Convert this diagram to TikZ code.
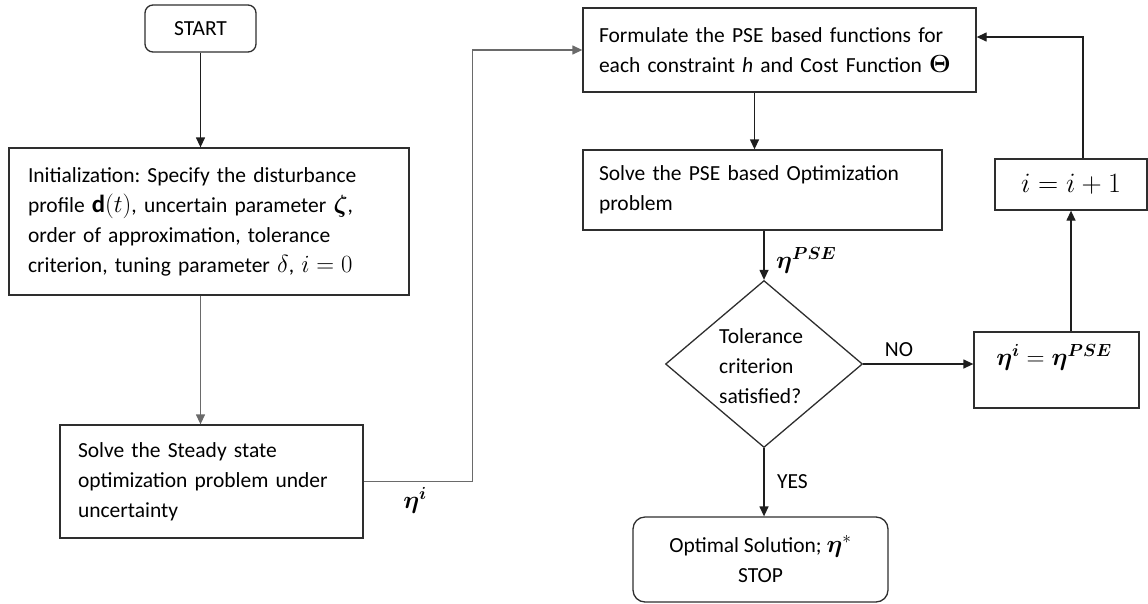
\RequirePackage{fix-cm}
\documentclass[tikz,border=0pt]{standalone}
\usepackage{amsmath}
\usepackage{fontspec}
\setmainfont{Carlito}
\usetikzlibrary{arrows.meta,shapes.geometric,calc}
\definecolor{boxc}{HTML}{2E2E2E}
\definecolor{linec}{HTML}{1E1E1E}
\definecolor{greyl}{HTML}{6A6A6A}
\frenchspacing
\newcommand{\mth}[1]{\scalebox{1.15}{$#1$}}
\tikzset{
  every node/.style={font=\fontsize{21.5}{30}\selectfont},
  box/.style={draw=boxc, line width=1.3pt, rectangle, inner ysep=0pt},
  rbox/.style={box, rounded corners=#1},
  arrow/.style={draw=linec, line width=1.3pt, -{Triangle[length=10pt,width=9pt]}},
  garrow/.style={draw=greyl, line width=1.3pt, -{Triangle[length=10pt,width=9pt]}},
  lbl/.style={inner sep=0pt},
  mlbl/.style={inner sep=0pt, font=\fontsize{25}{30}\selectfont}
}
\begin{document}
\begin{tikzpicture}[x=1pt,y=-1pt]
\useasboundingbox (0,0) rectangle (1148,603);

\node[rbox=8pt, minimum width=111pt, minimum height=47pt] (start) at (200.5,28.5) {START};

\node[box, minimum width=400pt, minimum height=147pt, inner xsep=19pt, text width=362pt, align=left] (init) at (209,221.5)
 {Initialization: Specify the disturbance\\
  profile \mth{\mathbf{d}(t)}, uncertain parameter \mth{\boldsymbol{\zeta}},\\
  order of approximation, tolerance\\
  criterion, tuning parameter \mth{\delta}, \mth{i=0}};

\node[box, minimum width=303pt, minimum height=113pt, inner xsep=18pt, text width=267pt, align=left] (steady) at (211.5,481.5)
 {Solve the Steady state\\ optimization problem under\\ uncertainty};

\node[box, minimum width=393pt, minimum height=84pt, inner xsep=16pt, text width=361pt, align=left] (form) at (779.5,50)
 {Formulate the PSE based functions for\\ each constraint \textit{h} and Cost Function \mth{\boldsymbol{\Theta}}};

\node[box, minimum width=359pt, minimum height=80pt, inner xsep=16pt, text width=327pt, align=left] (pse) at (762.5,190)
 {Solve the PSE based Optimization\\ problem};

\node[draw=boxc, line width=1.3pt, diamond, inner sep=0pt, minimum width=197pt, minimum height=167pt] (dia) at (764,364) {};
\node[lbl, align=left, anchor=west] (diat) at (719,366) {Tolerance\\ criterion\\ satisfied?};

\node[box, minimum width=165pt, minimum height=76pt] (upd) at (1056.5,370) {};
\node[mlbl] (updt) at (1054,357) {$\boldsymbol{\eta^{i}}=\boldsymbol{\eta^{PSE}}$};

\node[box, minimum width=152pt, minimum height=51pt, font=\fontsize{28}{30}\selectfont] (inc) at (1071,184.5) {$i=i+1$};

\node[rbox=12pt, minimum width=255pt, minimum height=85pt, align=center] (opt) at (760.5,559.5)
 {Optimal Solution; \mth{\boldsymbol{\eta}^{*}}\\ STOP};

% connectors
\draw[arrow] (start.south) -- (start.south |- init.north);
\draw[garrow] (start.south |- init.south) -- (start.south |- steady.north);
\draw[garrow] (steady.east) -| ($(form.west)+(-110,0)$) -- (form.west);
\coordinate (fa) at ($(form.south)+(-25,0)$);
\draw[arrow] (fa) -- (fa |- pse.north);
\draw[arrow] (pse.south -| dia.north) -- (dia.north);
\draw[arrow] (dia.east) -- (dia.east -| upd.west);
\draw[arrow] (upd.north -| inc.south) -- (inc.south);
\coordinate (ia) at ($(inc.north)+(12,0)$);
\draw[arrow] (ia) |- ($(form.east)+(0,-13)$);
\draw[arrow] (dia.south) -- (dia.south |- opt.north);

% labels
\node[mlbl] (letai) at (415,500) {$\boldsymbol{\eta^{i}}$};
\node[mlbl, anchor=west] (letapse) at (776,260) {$\boldsymbol{\eta^{PSE}}$};
\node[lbl] (lno) at (899,350) {NO};
\node[lbl, anchor=west] (lyes) at (777,482) {YES};
\end{tikzpicture}
\end{document}
